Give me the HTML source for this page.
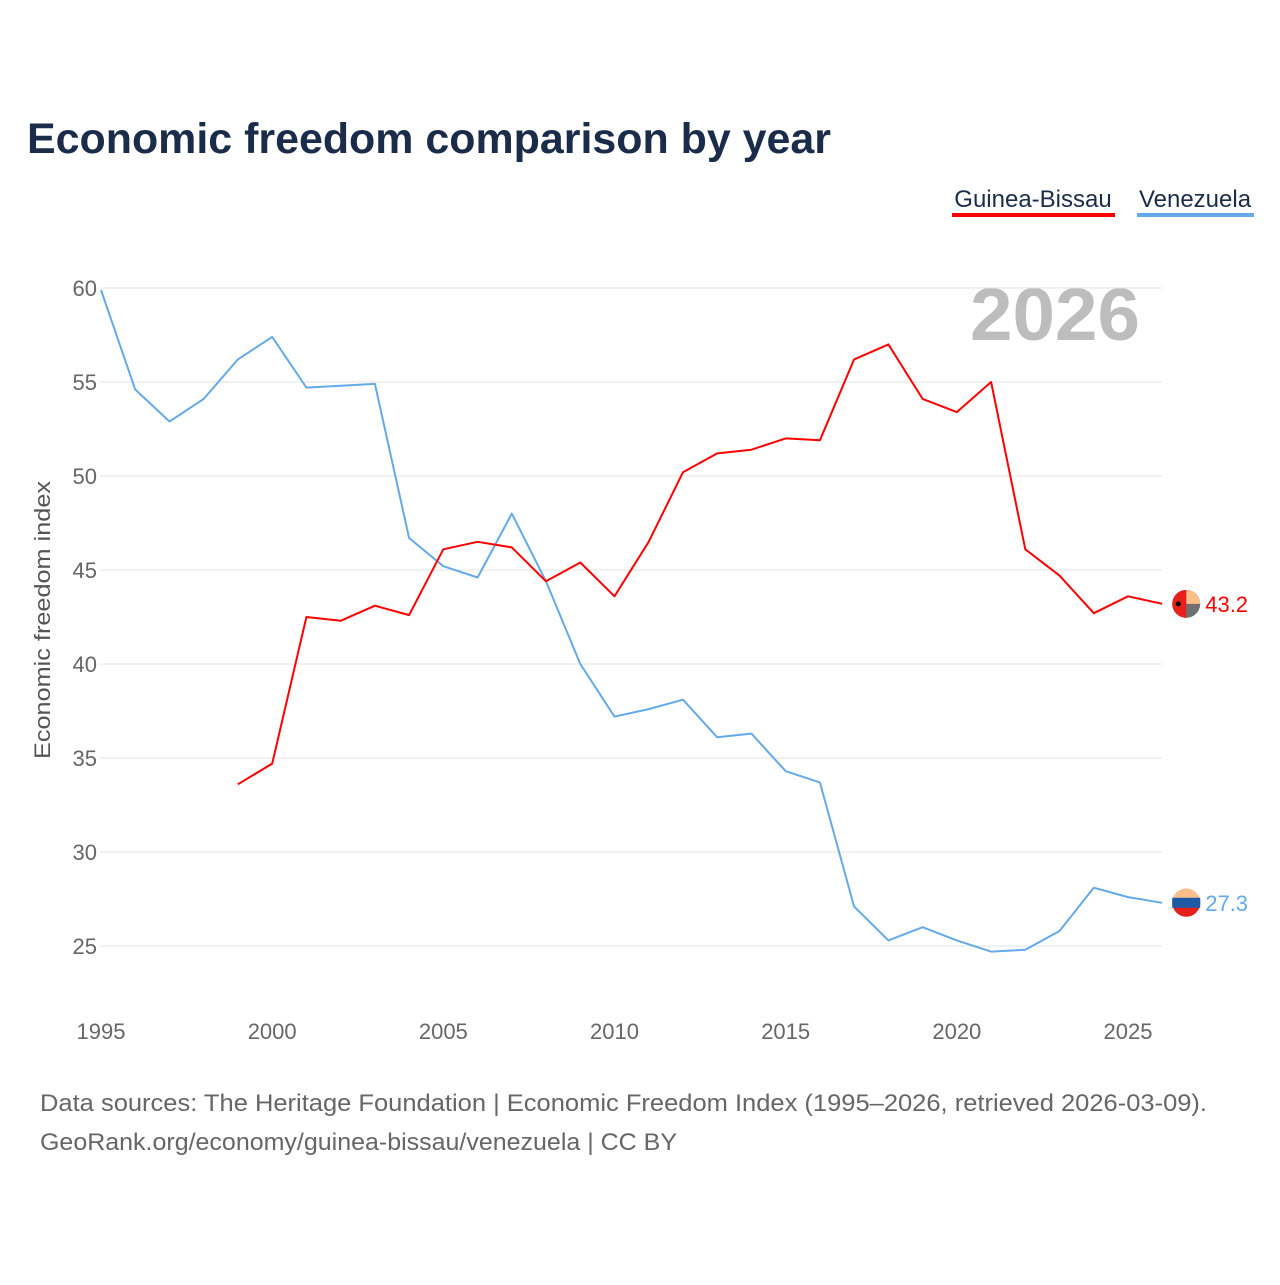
<!DOCTYPE html>
<html><head><meta charset="utf-8">
<style>
body{margin:0;background:#fff;width:1280px;height:1280px;overflow:hidden;font-family:"Liberation Sans",sans-serif}
svg text{font-family:"Liberation Sans",sans-serif}
</style></head>
<body>
<svg id="chart" width="1280" height="1280" viewBox="0 0 1280 1280">
<text x="27" y="153" font-size="43" font-weight="bold" fill="#1b2c4a" textLength="804" lengthAdjust="spacingAndGlyphs">Economic freedom comparison by year</text>
<g>
<text x="1033" y="207" font-size="24" fill="#1b2c4a" text-anchor="middle">Guinea-Bissau</text>
<rect x="952" y="213" width="163" height="4" fill="#ff0000"/>
</g>
<g>
<text x="1195" y="207" font-size="24" fill="#1b2c4a" text-anchor="middle">Venezuela</text>
<rect x="1137" y="213" width="117" height="4" fill="#64aaea"/>
</g>
<text x="970" y="340" font-size="74" font-weight="bold" fill="#bdbdbd" textLength="170" lengthAdjust="spacingAndGlyphs">2026</text>
<text transform="translate(50,620) rotate(-90)" font-size="22" fill="#555" text-anchor="middle" textLength="278" lengthAdjust="spacingAndGlyphs">Economic freedom index</text>
<g id="grid"></g><g id="xt"></g><g id="lines"></g>
<text x="40" y="1111" font-size="24" fill="#666" textLength="1167" lengthAdjust="spacingAndGlyphs">Data sources: The Heritage Foundation | Economic Freedom Index (1995–2026, retrieved 2026-03-09).</text>
<text x="40" y="1150" font-size="24" fill="#666" textLength="637" lengthAdjust="spacingAndGlyphs">GeoRank.org/economy/guinea-bissau/venezuela | CC BY</text>
</svg>
<script>
const years=[1995,1996,1997,1998,1999,2000,2001,2002,2003,2004,2005,2006,2007,2008,2009,2010,2011,2012,2013,2014,2015,2016,2017,2018,2019,2020,2021,2022,2023,2024,2025,2026];
const venezuela=[59.9,54.6,52.9,54.1,56.2,57.4,54.7,54.8,54.9,46.7,45.2,44.6,48.0,44.4,40.0,37.2,37.6,38.1,36.1,36.3,34.3,33.7,27.1,25.3,26.0,25.3,24.7,24.8,25.8,28.1,27.6,27.3];
const guinea=[null,null,null,null,33.6,34.7,42.5,42.3,43.1,42.6,46.1,46.5,46.2,44.4,45.4,43.6,46.5,50.2,51.2,51.4,52.0,51.9,56.2,57.0,54.1,53.4,55.0,46.1,44.7,42.7,43.6,43.2];
const yTicks=[25,30,35,40,45,50,55,60];
const xTicks=[1995,2000,2005,2010,2015,2020,2025];
const NS="http://www.w3.org/2000/svg";
const x=v=>101+(v-1995)*(1128-101)/30;
const y=v=>946-(v-25)*(946-288)/35;
function mk(tag,attrs,parent,txt){const e=document.createElementNS(NS,tag);for(const k in attrs)e.setAttribute(k,attrs[k]);if(txt!==undefined)e.textContent=txt;parent.appendChild(e);return e;}
const grid=document.getElementById('grid');
yTicks.forEach(t=>{
 const l=mk('line',{x1:100,x2:1162,y1:y(t),y2:y(t),stroke:'#e3e3e3','stroke-width':1},grid);
 
 
 const tx=mk('text',{x:97,y:y(t)+8,'font-size':22,fill:'#666','text-anchor':'end'},grid,t);
 
 
});
const xt=document.getElementById('xt');
xTicks.forEach(t=>{
 const tx=mk('text',{x:x(t),y:1039,'font-size':22,fill:'#666','text-anchor':'middle'},xt,t);
 
 
});
const lines=document.getElementById('lines');
function series(vals,color,name){
 let d='';vals.forEach((v,i)=>{if(v==null)return;d+=(d?'L':'M')+x(years[i]).toFixed(1)+','+y(v).toFixed(1);});
 const p=mk('path',{d:d,fill:'none',stroke:color,'stroke-width':2,'stroke-linejoin':'round'},lines);
 
 
 const last=vals[vals.length-1];
 const cx=x(years[years.length-1])+24, cy=y(last);
 const g=mk('g',{},lines);
 
 
 if(name==='guinea-bissau'){
  mk('circle',{cx:cx,cy:cy,r:14,fill:'#707070'},g);
  mk('path',{d:`M${cx},${cy-14}A14,14 0 0 1 ${cx+14},${cy}L${cx},${cy}Z`,fill:'#fcbf8a'},g);
  mk('path',{d:`M${cx},${cy-14}A14,14 0 0 0 ${cx},${cy+14}Z`,fill:'#e8201c'},g);
  mk('circle',{cx:cx-8,cy:cy,r:2.5,fill:'#000'},g);
 }else{
  mk('circle',{cx:cx,cy:cy,r:14,fill:'#e8201c'},g);
  mk('path',{d:`M${cx-14},${cy}A14,14 0 0 1 ${cx+14},${cy}Z`,fill:'#fcbf8a'},g);
  mk('rect',{x:cx-14,y:cy-5,width:28,height:10,fill:'#1f5aa6'},g);
 }
 const lt=mk('text',{x:cx+19,y:cy+8,'font-size':22,fill:color},lines,last.toFixed(1));
 
 
}
series(venezuela,'#64aaea','venezuela');
series(guinea,'#ff0000','guinea-bissau');
</script>
</body></html>
